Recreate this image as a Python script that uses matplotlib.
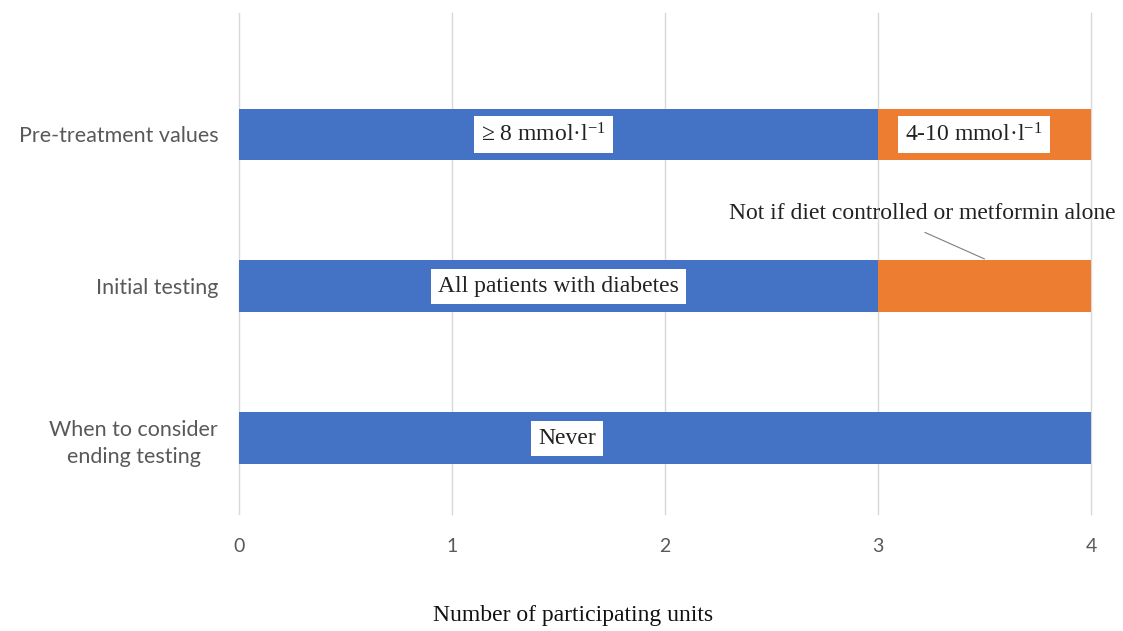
import matplotlib.pyplot as plt
import numpy as np

# data, top row first
categories = ["Pre-treatment values", "Initial testing", "When to consider\nending testing"]
first_part = [3, 3, 4]
second_part = [1, 1, 0]
bar_labels = ["\u2265 8 mmol\u00b7l$^{-1}$", "All patients with diabetes", "Never"]
extra_label = "4-10 mmol\u00b7l$^{-1}$"
callout = "Not if diet controlled or metformin alone"
x_ticks = [0, 1, 2, 3, 4]

plt.rcParams['mathtext.fontset'] = 'custom'
plt.rcParams['mathtext.rm'] = 'Liberation Serif'
plt.rcParams['mathtext.it'] = 'Liberation Serif:italic'

blue = '#4472C4'
orange = '#ED7D31'
grey = '#595959'
serif = 'Liberation Serif'

fig = plt.figure(figsize=(11.23, 6.31), dpi=100)
ax = fig.add_axes([239 / 1123, 1 - 514 / 631, 852 / 1123, 501 / 631])

y = np.arange(len(categories))[::-1]
ax.barh(y, first_part, height=0.34, color=blue, zorder=2)
ax.barh(y, second_part, left=first_part, height=0.34, color=orange, zorder=2)

ax.set_xlim(0, 4)
ax.set_ylim(-0.5, 2.8)
ax.set_xticks(x_ticks)
ax.set_yticks(y)
ax.set_yticklabels(categories, ha='right', multialignment='center', fontsize=15.5,
                   color=grey, family='Lato', linespacing=1.45)
ax.tick_params(axis='y', length=0, pad=15)
ax.tick_params(axis='x', length=0, pad=17, labelsize=14, labelcolor=grey)
for lab in ax.get_xticklabels():
    lab.set_family('Lato')
ax.grid(axis='x', color='#D9D9D9', linewidth=1, zorder=0)
for gl in ax.get_xgridlines():
    gl.set_clip_on(False)
for s in ax.spines.values():
    s.set_visible(False)

box = dict(boxstyle='square,pad=0.3', facecolor='white', edgecolor='none')
label_x = [1.43, 1.5, 1.54]
for yy, lx, txt in zip(y, label_x, bar_labels):
    ax.text(lx, yy, txt, ha='center', va='center', fontsize=17, family=serif,
            color='#222222', bbox=box, zorder=3)
ax.text(3.45, y[0], extra_label, ha='center', va='center', fontsize=17, family=serif,
        color='#222222', bbox=box, zorder=3)

ax.text(3.21, 1.48, callout, ha='center', va='center', fontsize=17, family=serif,
        color='#222222', zorder=3, clip_on=False)
ax.annotate('', xy=(3.5, 1.18), xytext=(3.22, 1.355),
            arrowprops=dict(arrowstyle='-', color='#7f7f7f', linewidth=0.8,
                            shrinkA=0, shrinkB=0),
            zorder=3)

fig.text(573 / 1123, 1 - 615 / 631, "Number of participating units", ha='center', va='center',
         fontsize=17, family=serif, color='#111111')

fig.savefig('out.png', dpi=100)
